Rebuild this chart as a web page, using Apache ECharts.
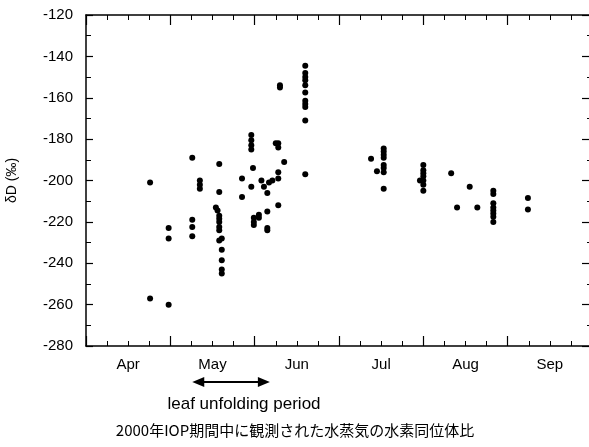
<!DOCTYPE html>
<html>
<head>
<meta charset="utf-8">
<script src="https://cdn.jsdelivr.net/npm/echarts@6/dist/echarts.min.js"></script>
<style>
  html, body { margin: 0; padding: 0; background: #fff; }
  #chart { width: 589px; height: 447px; }
</style>
</head>
<body>
<div id="chart"></div>
<script>
// x position in months from 1 April 2000 (0 = Apr 1, 1 = May 1, ...)
const monthLabels = ['Apr', 'May', 'Jun', 'Jul', 'Aug', 'Sep']
const yTicks = [-280, -260, -240, -220, -200, -180, -160, -140, -120]

const obsMonth = [
  0.76, 0.76,
  0.98, 0.98, 0.98,
  1.26, 1.26, 1.26, 1.26,
  1.35, 1.35, 1.35,
  1.58, 1.58, 1.54, 1.56, 1.58, 1.58, 1.58, 1.58, 1.58, 1.61, 1.58, 1.61, 1.61, 1.61, 1.61,
  1.85, 1.85,
  1.96, 1.96, 1.96, 1.96, 2.25, 2.28, 2.28, 2.35, 1.98, 2.08, 2.21, 2.17, 2.28, 2.28,
  1.96, 2.11, 2.15, 2.28, 2.15, 2.05, 2.05, 1.99, 1.99, 1.99, 2.15, 2.15,
  2.30, 2.30,
  2.60, 2.60, 2.60, 2.60, 2.60, 2.60, 2.60, 2.60, 2.60, 2.60, 2.60,
  3.38, 3.45, 3.53, 3.53, 3.53, 3.53, 3.53, 3.53, 3.53, 3.53,
  3.96, 4.00, 4.00, 4.00, 4.00, 4.00, 4.00, 4.00,
  4.33, 4.40, 4.55, 4.64,
  4.83, 4.83, 4.83, 4.83, 4.83, 4.83, 4.83, 4.83,
  5.24, 5.24
]
const deltaD = [
  -201, -257,
  -223, -228, -260,
  -189, -219, -222.5, -227,
  -200, -202, -204,
  -192, -205.5, -213, -214.5, -217, -218.5, -220, -222.5, -224, -228, -229, -233.5, -238.5, -243, -245,
  -199, -208,
  -178, -180.5, -183, -185, -182, -182, -184, -191, -194, -200, -200, -201, -196, -199,
  -203, -203, -206, -212, -215, -216.5, -218, -218, -220, -221.5, -223, -224,
  -154, -155,
  -144.5, -148, -150, -151.5, -154, -157.5, -161.5, -163, -164.5, -171, -197,
  -189.5, -195.5, -184.5, -186, -187.5, -189, -192.5, -194, -196, -204,
  -200, -192.5, -195, -196.5, -198, -200, -202, -205,
  -196.5, -213, -203, -213,
  -205, -206.5, -211, -213, -214.5, -216, -217.5, -220,
  -208.5, -214
]
// leaf unfolding period, in the same month units
const leafPeriod = [1.26, 2.18]

const points = obsMonth.map((m, i) => [m, deltaD[i]])

const chart = echarts.init(document.getElementById('chart'))

const axisLineStyle = { color: '#000', width: 1.5 }

const frameX = (position) => ({
  type: 'value',
  position: position,
  min: 0,
  max: 6,
  interval: 1,
  axisLine: { show: true, onZero: false, lineStyle: axisLineStyle },
  axisTick: { show: true, inside: true, length: 10, lineStyle: { color: '#000', width: 1.2 } },
  minorTick: { show: true, splitNumber: 4, length: 5, lineStyle: { color: '#000', width: 1 } },
  axisLabel: { show: false },
  splitLine: { show: false },
})

const option = {
  animation: false,
  grid: { left: 86, top: 15, width: 506, height: 331, outerBoundsMode: 'none', containLabel: false },
  xAxis: [
    frameX('bottom'),
    frameX('top'),
    {
      type: 'value',
      position: 'bottom',
      min: 0,
      max: 6,
      interval: 0.5,
      axisLine: { show: false },
      axisTick: { show: false },
      splitLine: { show: false },
      axisLabel: {
        margin: 11,
        color: '#000',
        fontFamily: 'Liberation Sans, Arial, sans-serif',
        fontSize: 15,
        formatter: (v) => {
          const k = v - 0.5
          if (Math.abs(k - Math.round(k)) < 1e-6 && monthLabels[Math.round(k)]) {
            return monthLabels[Math.round(k)]
          }
          return ''
        },
      },
    },
  ],
  yAxis: [
    {
      type: 'value',
      position: 'left',
      min: yTicks[0],
      max: yTicks[yTicks.length - 1],
      interval: 20,
      name: 'δD (‰)',
      nameLocation: 'middle',
      nameRotate: 90,
      nameGap: 67,
      nameTextStyle: { color: '#000', fontFamily: 'Liberation Sans, Arial, sans-serif', fontSize: 14 },
      axisLine: { show: true, onZero: false, lineStyle: axisLineStyle },
      axisTick: { show: true, inside: true, length: 7, lineStyle: { color: '#000', width: 1.2 } },
      minorTick: { show: true, splitNumber: 2, length: 5, lineStyle: { color: '#000', width: 1 } },
      axisLabel: {
        margin: 13,
        color: '#000',
        fontFamily: 'Liberation Sans, Arial, sans-serif',
        fontSize: 15,
      },
      splitLine: { show: false },
    },
    {
      type: 'value',
      position: 'right',
      min: yTicks[0],
      max: yTicks[yTicks.length - 1],
      interval: 20,
      axisLine: { show: true, onZero: false, lineStyle: axisLineStyle },
      axisTick: { show: true, inside: true, length: 10, lineStyle: { color: '#000', width: 1.2 } },
      minorTick: { show: true, splitNumber: 2, length: 5, lineStyle: { color: '#000', width: 1 } },
      axisLabel: { show: false },
      splitLine: { show: false },
    },
  ],
  series: [
    {
      type: 'scatter',
      xAxisIndex: 0,
      yAxisIndex: 0,
      data: points,
      symbol: 'circle',
      symbolSize: 6,
      itemStyle: { color: '#000', opacity: 1 },
    },
  ],
}

chart.setOption(option)

// arrow under the axis for the leaf unfolding period
const x1 = chart.convertToPixel({ xAxisIndex: 0 }, leafPeriod[0])
const x2 = chart.convertToPixel({ xAxisIndex: 0 }, leafPeriod[1])
const ay = 382
const head = 11
chart.setOption({
  graphic: [
    {
      type: 'line',
      shape: { x1: x1 + head, y1: ay, x2: x2 - head, y2: ay },
      style: { stroke: '#000', lineWidth: 2 },
    },
    {
      type: 'polygon',
      shape: { points: [[x1, ay], [x1 + head + 1, ay - 5], [x1 + head + 1, ay + 5]] },
      style: { fill: '#000' },
    },
    {
      type: 'polygon',
      shape: { points: [[x2, ay], [x2 - head - 1, ay - 5], [x2 - head - 1, ay + 5]] },
      style: { fill: '#000' },
    },
    {
      type: 'text',
      x: 244,
      y: 404,
      style: {
        text: 'leaf unfolding period',
        fill: '#000',
        font: '17px "Liberation Sans", Arial, sans-serif',
        align: 'center',
        verticalAlign: 'middle',
      },
    },
    {
      type: 'text',
      x: 295,
      y: 430,
      style: {
        text: '2000年IOP期間中に観測された水蒸気の水素同位体比',
        fill: '#000',
        font: '15px "Noto Sans CJK JP", sans-serif',
        align: 'center',
        verticalAlign: 'middle',
      },
    },
  ],
})
</script>
</body>
</html>
